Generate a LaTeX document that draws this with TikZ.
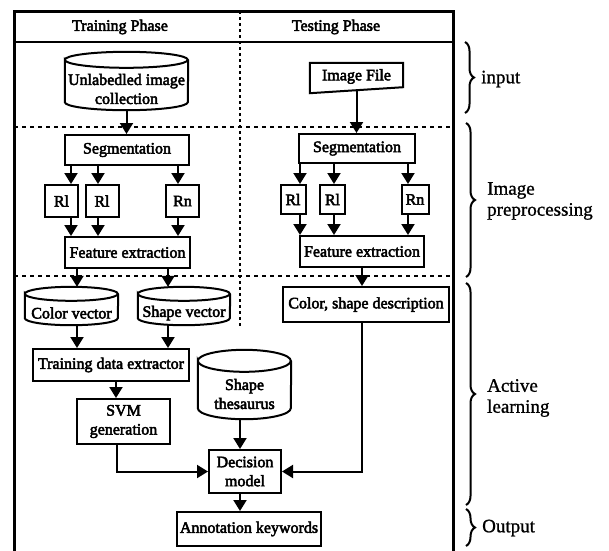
\documentclass[tikz,border=0pt]{standalone}
\usepackage{fontspec}
\setmainfont{Liberation Serif}
\newfontfamily\boxfont{Liberation Serif}[FakeBold=3]
\newfontfamily\sidefont{Liberation Serif}[FakeBold=1]
\usetikzlibrary{arrows.meta,decorations.pathreplacing}
\newcommand\cylout[3]{%
  \draw[line width=2pt] ([yshift=-#3]#1.north west) arc[start angle=180,end angle=-180,x radius=#2,y radius=#3]
    -- ([yshift=#3]#1.south west) arc[start angle=180,end angle=360,x radius=#2,y radius=#3]
    -- ([yshift=-#3]#1.north east);}
\tikzset{
  bx/.style={draw, line width=2pt, inner sep=0pt, align=center, font=\boxfont\fontsize{16}{19}\selectfont},
  cyl/.style={inner sep=0pt},
  ctext/.style={inner sep=0pt, align=center, font=\boxfont\fontsize{16}{19}\selectfont},
  hdr/.style={inner sep=0pt, font=\boxfont\fontsize{16}{19}\selectfont},
  arr/.style={line width=2pt, -{Triangle[length=11pt,width=13pt]}},
  ln/.style={line width=2pt},
  frm/.style={line width=3pt},
  hdash/.style={line width=2pt, dash pattern=on 4pt off 4pt},
  vdash/.style={line width=1.5pt, dash pattern=on 3pt off 3pt},
  brc/.style={decorate, decoration={brace, amplitude=9pt}, line width=2pt},
  side/.style={anchor=west, align=left, inner sep=0pt, font=\sidefont\fontsize{19}{21}\selectfont}
}
\begin{document}
\begin{tikzpicture}[x=1pt,y=1pt]
\useasboundingbox (0,0) rectangle (609,-550);
% frame and separators
\draw[frm] (14,-552) -- (14,-11) -- (453,-11) -- (453,-552);
\draw[ln] (14,-42) -- (453,-42);
\draw[vdash] (240,-11) -- (240,-328);
\draw[hdash] (14,-127) -- (453,-127);
\draw[hdash] (14,-276) -- (453,-276);
% headers
\node[hdr] (trainh) at (120,-27) {Training Phase};
\node[hdr] (testh) at (336,-27) {Testing Phase};
% arrow x positions
\coordinate (a1) at (71,0);
\coordinate (a2) at (98,0);
\coordinate (a3) at (178,0);
\coordinate (b1) at (300,0);
\coordinate (b2) at (334,0);
\coordinate (b3) at (408,0);
\coordinate (c1) at (77,0);
\coordinate (c2) at (168,0);
\coordinate (c3) at (116,0);
\coordinate (c4) at (117,0);
\coordinate (c5) at (240,0);
% training column
\node[cyl, minimum width=123pt, minimum height=58pt] (unl) at (126.5,-81) {};
\cylout{unl}{61.5pt}{8pt}
\node[ctext] (unlt) at (126.5,-89) {Unlabedled image\\collection};
\node[bx, minimum width=124pt, minimum height=30pt] (segL) at (127,-150) {Segmentation};
\node[bx, minimum width=33pt, minimum height=32pt] (rl1) at (61.5,-201) {Rl};
\node[bx, minimum width=33pt, minimum height=32pt] (rl2) at (102,-201) {Rl};
\node[bx, minimum width=33pt, minimum height=32pt] (rl3) at (182.5,-201) {Rn};
\node[bx, minimum width=125pt, minimum height=31pt] (featL) at (127.5,-252.5) {Feature extraction};
\node[cyl, minimum width=93pt, minimum height=38pt] (colv) at (71.5,-306) {};
\cylout{colv}{46.5pt}{7pt}
\node[ctext] (colvt) at (71.5,-313) {Color vector};
\node[cyl, minimum width=92pt, minimum height=38pt] (shpv) at (184,-306) {};
\cylout{shpv}{46pt}{7pt}
\node[ctext] (shpvt) at (184,-313) {Shape vector};
\node[bx, minimum width=156pt, minimum height=32pt] (tde) at (111,-365) {Training data extractor};
\node[bx, minimum width=93pt, minimum height=45pt] (svm) at (123.5,-421.5) {SVM\\generation};
\node[cyl, minimum width=93pt, minimum height=69pt] (thes) at (244.5,-384.5) {};
\cylout{thes}{46.5pt}{11pt}
\node[ctext] (thest) at (244.5,-394) {Shape\\thesaurus};
\node[bx, minimum width=72pt, minimum height=43pt] (dec) at (245,-471.5) {Decision\\model};
\node[bx, minimum width=144pt, minimum height=34pt] (ann) at (249,-529) {Annotation keywords};
% testing column
\node[inner sep=0pt, minimum width=93pt, minimum height=27pt, font=\boxfont\fontsize{16}{19}\selectfont] (img) at (356.5,-76.5) {Image File};
\draw[ln] (img.north west) -- (img.north east) -- ([yshift=3pt]img.south east) -- ([yshift=-3pt]img.south west) -- cycle;
\node[bx, minimum width=116pt, minimum height=29pt] (segR) at (357,-148.5) {Segmentation};
\node[bx, minimum width=25pt, minimum height=29pt] (rr1) at (293,-199.5) {Rl};
\node[bx, minimum width=25pt, minimum height=29pt] (rr2) at (332.5,-199.5) {Rl};
\node[bx, minimum width=27pt, minimum height=29pt] (rr3) at (415,-199.5) {Rn};
\node[bx, minimum width=124pt, minimum height=31pt] (featR) at (362,-251.5) {Feature extraction};
\node[bx, minimum width=166pt, minimum height=35pt] (csd) at (366,-304.5) {Color, shape description};
% connectors training
\draw[arr] (unl.south) -- (unl.south |- segL.north);
\foreach \a/\r in {a1/rl1,a2/rl2,a3/rl3}{
  \draw[arr] (segL.south -| \a) -- (\r.north -| \a);
  \draw[arr] (\r.south -| \a) -- (featL.north -| \a);
}
\draw[arr] (featL.south -| c1) -- (colv.north -| c1);
\draw[arr] (featL.south -| c2) -- (shpv.north -| c2);
\draw[arr] (colv.south -| c1) -- (tde.north -| c1);
\draw[arr] (shpv.south -| c2) -- (tde.north -| c2);
\draw[arr] (tde.south -| c3) -- (svm.north -| c3);
\draw[arr] (svm.south -| c4) |- (dec.west);
\draw[arr] (thes.south -| c5) -- (dec.north -| c5);
\draw[arr] (dec.south -| c5) -- (ann.north -| c5);
% connectors testing
\draw[arr] (img.south) -- (img.south |- segR.north);
\foreach \b/\r in {b1/rr1,b2/rr2,b3/rr3}{
  \draw[arr] (segR.south -| \b) -- (\r.north -| \b);
  \draw[arr] (\r.south -| \b) -- (featR.north -| \b);
}
\draw[arr] (featR.south) -- (featR.south |- csd.north);
\draw[arr] (csd.south -| featR) |- (dec.east);
% braces
\draw[brc] (465,-42) -- (465,-113);
\node[side] (lin) at (481,-79) {input};
\draw[brc] (466,-123) -- (466,-277);
\node[side] (lpre) at (487,-201) {Image\\preprocessing};
\draw[brc] (466,-283) -- (466,-505);
\node[side] (lact) at (487,-398) {Active\\learning};
\draw[brc] (466,-509) -- (466,-546);
\node[side] (lout) at (482,-528) {Output};
\end{tikzpicture}
\end{document}
